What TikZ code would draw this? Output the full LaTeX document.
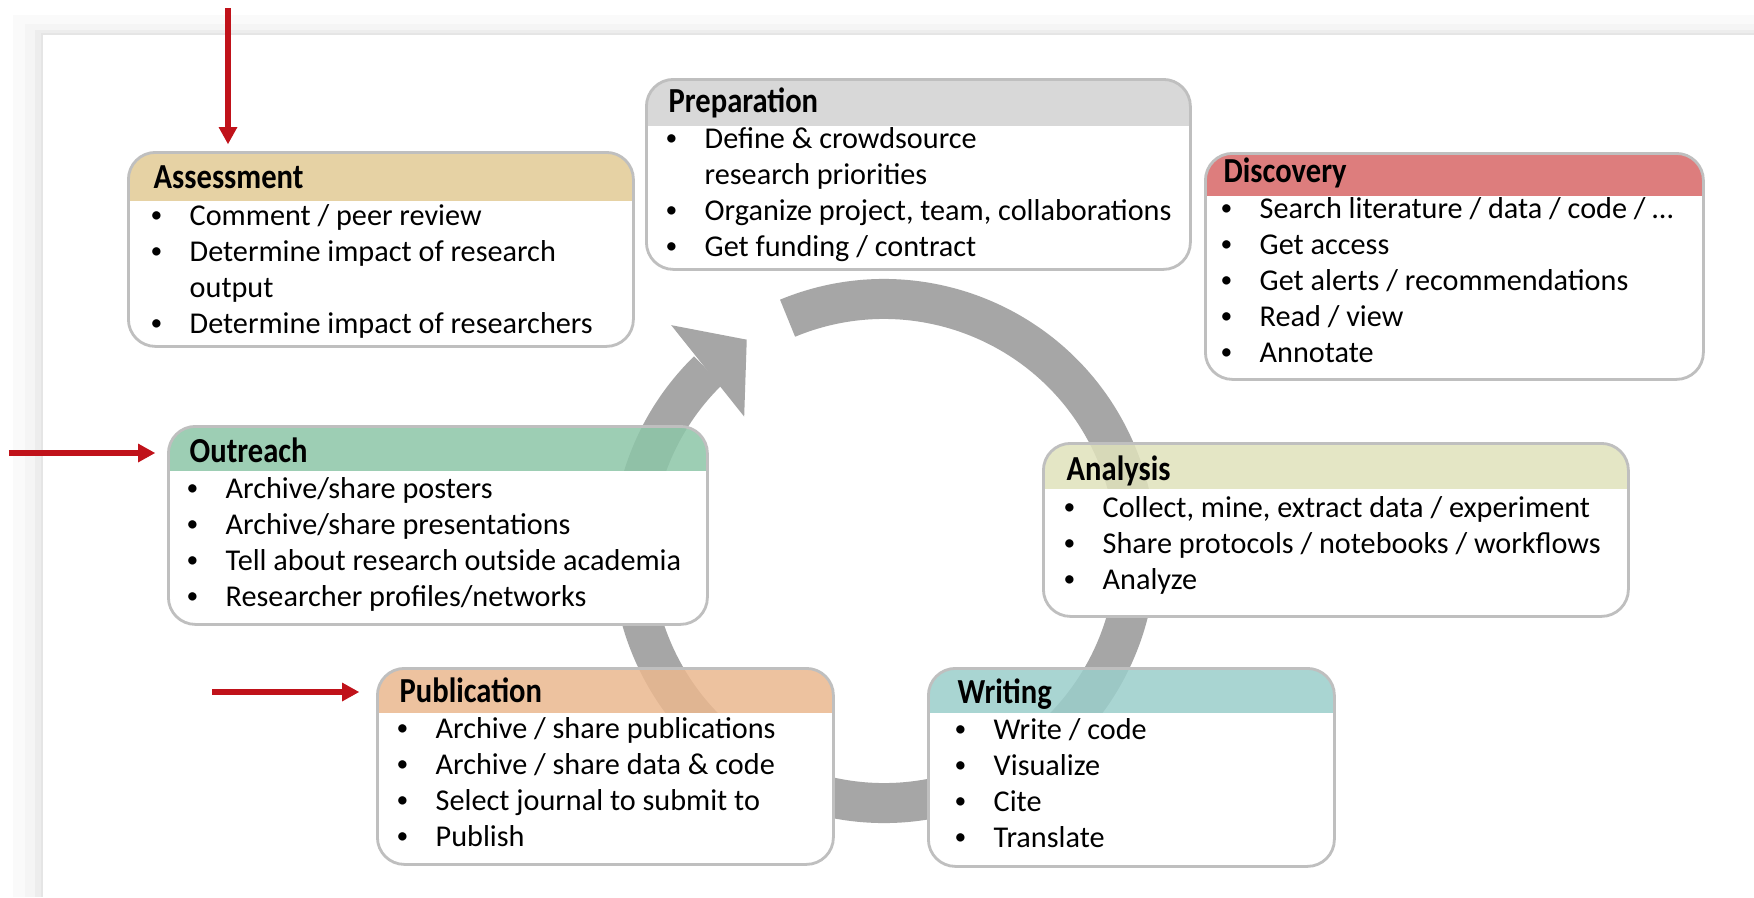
\documentclass[tikz,border=0pt]{standalone}
\usepackage{fontspec}
\setmainfont{Carlito}[BoldFeatures={FakeStretch=0.87}]
\usepackage{graphicx}
\usepackage{tikz}
\usetikzlibrary{arrows.meta, bending}

\definecolor{cyclegray}{HTML}{A6A6A6}
\definecolor{boxline}{HTML}{BFBFBF}
\definecolor{pointred}{HTML}{C0121A}
\definecolor{assesshead}{HTML}{E2CB95}
\definecolor{prephead}{HTML}{D2D2D2}
\definecolor{dischead}{HTML}{D86767}
\definecolor{outrhead}{HTML}{8DC6A8}
\definecolor{analhead}{HTML}{E0E2BC}
\definecolor{pubhead}{HTML}{EBB88F}
\definecolor{writhead}{HTML}{9BCECB}

\newcommand{\itemlist}[1]{\begin{tabular}[t]{@{}p{0.36cm}@{}l@{}}#1\end{tabular}}
\newcommand{\bul}{\hspace*{-0.03cm}\raisebox{0.08em}{\scalebox{0.78}{\textbullet}}}

\tikzstyle{title} = [anchor=base west, inner sep=0pt, font=\bfseries]
\tikzstyle{items} = [anchor=base west, inner sep=0pt]
\tikzstyle{cyclearc} = [line width=0.4cm, draw=cyclegray, -{Triangle[width=1.17cm, length=0.5cm, line width=0pt]}]
\tikzstyle{pointer} = [line width=0.06cm, draw=pointred, -{Triangle[width=0.19cm, length=0.17cm, line width=0pt]}]
\tikzset{stage/.style 2 args={draw=boxline, line width=0.8pt, rounded corners=0.27cm, anchor=north west, inner sep=0pt,
    path picture={
      \fill[white, sharp corners] ([yshift=-#2]path picture bounding box.north west) rectangle (path picture bounding box.south east);
      \fill[#1, fill opacity=0.85, sharp corners] (path picture bounding box.north west) rectangle ([yshift=-#2]path picture bounding box.north east);
    }}}

\begin{document}
\begin{tikzpicture}[font=\fontsize{8.6}{10.25}\selectfont]
        \useasboundingbox (0,0) rectangle (17.54,-8.97);
        % page edge and panel
        \fill[black!2] (0.13,-0.15) rectangle (17.54,-8.97);
        \fill[black!4] (0.25,-0.24) rectangle (17.54,-8.97);
        \fill[black!7] (0.35,-0.30) rectangle (17.54,-8.97);
        \fill[black!10] (0.41,-0.33) rectangle (17.54,-8.97);
        \fill[white] (0.43,-0.35) rectangle (17.54,-8.97);

        % research cycle
        \coordinate (hub) at (8.84,-5.51);
        \draw [cyclearc] (hub) ++(112.5:2.52) arc[start angle=112.5, end angle=-237, radius=2.52];

        % stages
        \node [stage={assesshead}{0.49cm}, minimum width=5.05cm, minimum height=1.94cm] (assess) at (1.27,-1.51) {};
        \node [title] (assessT) at ([shift={(0.26,-0.37)}]assess.north west) {Assessment};
        \node [items] (assessL) at ([shift={(0.26,-0.74)}]assess.north west) {\itemlist{\bul & Comment / peer review\\ \bul & Determine impact of research\\ & output\\ \bul & Determine impact of researchers}};

        \node [stage={prephead}{0.47cm}, minimum width=5.44cm, minimum height=1.90cm] (prep) at (6.45,-0.78) {};
        \node [title] (prepT) at ([shift={(0.23,-0.34)}]prep.north west) {Preparation};
        \node [items] (prepL) at ([shift={(0.23,-0.70)}]prep.north west) {\itemlist{\bul & Define \& crowdsource\\ & research priorities\\ \bul & Organize project, team, collaborations\\ \bul & Get funding / contract}};

        \node [stage={dischead}{0.43cm}, minimum width=4.98cm, minimum height=2.26cm] (disc) at (12.04,-1.52) {};
        \node [title] (discT) at ([shift={(0.19,-0.30)}]disc.north west) {Discovery};
        \node [items] (discL) at ([shift={(0.19,-0.66)}]disc.north west) {\itemlist{\bul & Search literature / data / code / …\\ \bul & Get access\\ \bul & Get alerts / recommendations\\ \bul & Read / view\\ \bul & Annotate}};

        \node [stage={outrhead}{0.45cm}, minimum width=5.39cm, minimum height=1.98cm] (outr) at (1.67,-4.25) {};
        \node [title] (outrT) at ([shift={(0.22,-0.37)}]outr.north west) {Outreach};
        \node [items] (outrL) at ([shift={(0.22,-0.73)}]outr.north west) {\itemlist{\bul & Archive/share posters\\ \bul & Archive/share presentations\\ \bul & Tell about research outside academia\\ \bul & Researcher profiles/networks}};

        \node [stage={analhead}{0.46cm}, minimum width=5.85cm, minimum height=1.73cm] (anal) at (10.42,-4.42) {};
        \node [title] (analT) at ([shift={(0.24,-0.38)}]anal.north west) {Analysis};
        \node [items] (analL) at ([shift={(0.24,-0.75)}]anal.north west) {\itemlist{\bul & Collect, mine, extract data / experiment\\ \bul & Share protocols / notebooks / workflows\\ \bul & Analyze}};

        \node [stage={pubhead}{0.45cm}, minimum width=4.56cm, minimum height=1.96cm] (pub) at (3.76,-6.67) {};
        \node [title] (pubT) at ([shift={(0.23,-0.35)}]pub.north west) {Publication};
        \node [items] (pubL) at ([shift={(0.23,-0.71)}]pub.north west) {\itemlist{\bul & Archive / share publications\\ \bul & Archive / share data \& code\\ \bul & Select journal to submit to\\ \bul & Publish}};

        \node [stage={writhead}{0.45cm}, minimum width=4.06cm, minimum height=1.98cm] (writ) at (9.27,-6.67) {};
        \node [title] (writT) at ([shift={(0.30,-0.36)}]writ.north west) {Writing};
        \node [items] (writL) at ([shift={(0.30,-0.72)}]writ.north west) {\itemlist{\bul & Write / code\\ \bul & Visualize\\ \bul & Cite\\ \bul & Translate}};

        % red pointers
        \coordinate (assessFeed) at (2.28,-0.08);
        \coordinate (outrFeed) at (0.09,-4.53);
        \coordinate (pubFeed) at (2.12,-6.92);
        \draw [pointer, shorten >=0.07cm] (assessFeed) -- (assessFeed |- assess.north);
        \draw [pointer, shorten >=0.12cm] (outrFeed) -- (outrFeed -| outr.west);
        \draw [pointer, shorten >=0.17cm] (pubFeed) -- (pubFeed -| pub.west);
\end{tikzpicture}
\end{document}
